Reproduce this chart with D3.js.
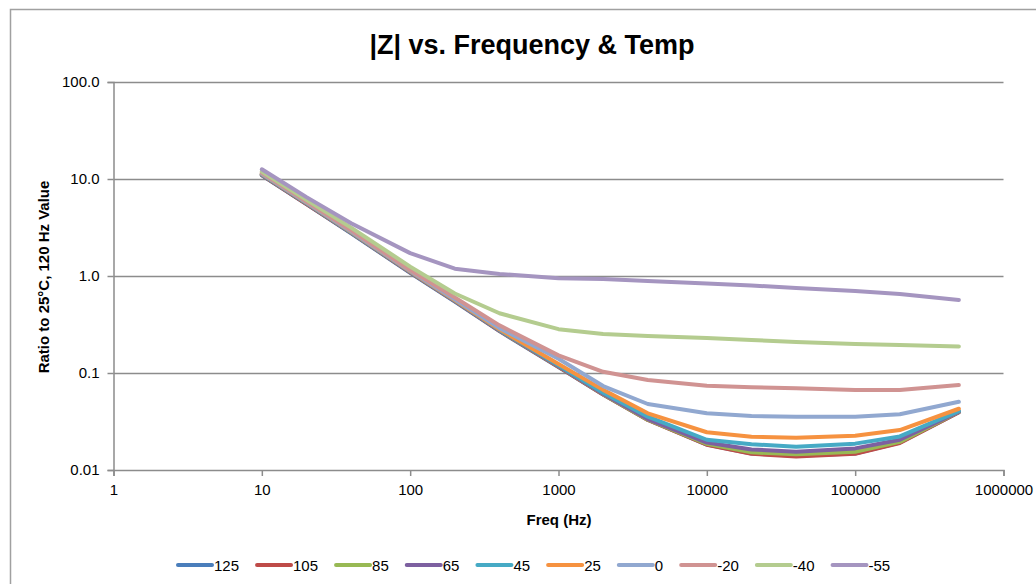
<!DOCTYPE html>
<html>
<head>
<meta charset="utf-8">
<script src="https://cdn.jsdelivr.net/npm/d3@7"></script>
<style>
  body { margin: 0; background: #fff; }
  svg { display: block; font-family: "Liberation Sans", Arial, sans-serif; }
</style>
</head>
<body>
<div id="chart"></div>
<script>
// data
const freqs = [10, 20, 40, 100, 200, 400, 1000, 2000, 4000, 10000, 20000, 40000, 100000, 200000, 500000];
const temps = ["125", "105", "85", "65", "45", "25", "0", "-20", "-40", "-55"];
const colors = ["#4A7EBB", "#BE4B48", "#98B954", "#7D60A0", "#46AAC5", "#F69240", "#91A8D0", "#D09392", "#B4CC8F", "#A595C0"];

const z125 = [10.9, 5.5, 2.75, 1.08, 0.545, 0.27, 0.115, 0.06, 0.033, 0.0183, 0.0148, 0.0140, 0.0148, 0.0192, 0.0395];
const z105 = [11.0, 5.5, 2.78, 1.09, 0.55, 0.272, 0.116, 0.06, 0.0328, 0.0182, 0.0147, 0.0138, 0.0147, 0.019, 0.0395];
const z85 = [11.1, 5.6, 2.8, 1.1, 0.555, 0.275, 0.117, 0.0605, 0.033, 0.0186, 0.0152, 0.0145, 0.0154, 0.0195, 0.0398];
const z65 = [11.1, 5.6, 2.8, 1.1, 0.555, 0.275, 0.118, 0.061, 0.0335, 0.0192, 0.0163, 0.0154, 0.0167, 0.0205, 0.040];
const z45 = [11.2, 5.65, 2.82, 1.11, 0.56, 0.278, 0.12, 0.0625, 0.0355, 0.0205, 0.0184, 0.0174, 0.0187, 0.0222, 0.0405];
const z25 = [11.3, 5.7, 2.85, 1.12, 0.565, 0.282, 0.124, 0.067, 0.0384, 0.0245, 0.022, 0.0215, 0.0226, 0.0258, 0.0428];
const z0 = [11.4, 5.75, 2.88, 1.13, 0.575, 0.29, 0.14, 0.0734, 0.0479, 0.0384, 0.036, 0.0355, 0.0355, 0.0376, 0.0506];
const zm20 = [11.6, 5.85, 2.95, 1.15, 0.6, 0.31, 0.152, 0.103, 0.0847, 0.074, 0.0713, 0.0698, 0.0668, 0.0668, 0.0752];
const zm40 = [11.9, 6.1, 3.15, 1.25, 0.66, 0.413, 0.283, 0.252, 0.24, 0.23, 0.219, 0.209, 0.199, 0.194, 0.188];
const zm55 = [12.6, 6.5, 3.5, 1.72, 1.19, 1.05, 0.946, 0.93, 0.89, 0.837, 0.80, 0.752, 0.70, 0.652, 0.566];
const seriesValues = [z125, z105, z85, z65, z45, z25, z0, zm20, zm40, zm55];

const xTicks = [1, 10, 100, 1000, 10000, 100000, 1000000];
const xTickLabels = ["1", "10", "100", "1000", "10000", "100000", "1000000"];
const yTicks = [0.01, 0.1, 1, 10, 100];
const yTickLabels = ["0.01", "0.1", "1.0", "10.0", "100.0"];

const W = 1036, H = 584;
const plot = { left: 113.5, right: 1003.5, top: 82, bottom: 470 };

const svg = d3.select("#chart")
  .append("svg")
  .attr("width", W)
  .attr("height", H);

svg.append("rect")
  .attr("width", W).attr("height", H)
  .attr("fill", "#fff");

// outer chart border (runs past the right/bottom edge)
svg.append("rect")
  .attr("x", 10.5).attr("y", 9.5)
  .attr("width", 1100).attr("height", 700)
  .attr("fill", "none")
  .attr("stroke", "#a0a0a0")
  .attr("stroke-width", 1.5);

const x = d3.scaleLog().domain([1, 1e6]).range([plot.left, plot.right]);
const y = d3.scaleLog().domain([0.01, 100]).range([plot.bottom, plot.top]);

// horizontal gridlines
svg.append("g")
  .attr("transform", `translate(${plot.left},0)`)
  .call(d3.axisLeft(y).tickValues(yTicks.slice(1)).tickSize(-(plot.right - plot.left)).tickFormat(""))
  .call(g => g.select(".domain").remove())
  .selectAll("line")
  .attr("stroke", "#8c8c8c")
  .attr("stroke-width", 1.5);

// y axis
const yAxis = svg.append("g")
  .attr("transform", `translate(${plot.left},0)`)
  .call(d3.axisLeft(y).tickValues(yTicks).tickSize(6).tickPadding(8)
    .tickFormat((d, i) => yTickLabels[i]));

// x axis
const xAxis = svg.append("g")
  .attr("transform", `translate(0,${plot.bottom})`)
  .call(d3.axisBottom(x).tickValues(xTicks).tickSize(6).tickPadding(8)
    .tickFormat((d, i) => xTickLabels[i]));

[yAxis, xAxis].forEach(a => {
  a.select(".domain").attr("stroke", "#8c8c8c").attr("stroke-width", 1.5);
  a.selectAll(".tick line").attr("stroke", "#8c8c8c").attr("stroke-width", 1.5);
  a.selectAll(".tick text")
    .attr("fill", "#000")
    .style("font-size", "15px")
    .style("font-family", "\"Liberation Sans\", Arial, sans-serif");
});

// series lines, first series drawn at the bottom
const line = d3.line()
  .x((d, i) => x(freqs[i]))
  .y(d => y(d));

svg.append("g")
  .selectAll("path")
  .data(seriesValues)
  .join("path")
  .attr("d", d => line(d))
  .attr("fill", "none")
  .attr("stroke", (d, i) => colors[i])
  .attr("stroke-width", 4)
  .attr("stroke-linejoin", "round")
  .attr("stroke-linecap", "round");

// title
svg.append("text")
  .attr("x", 532)
  .attr("y", 54)
  .attr("text-anchor", "middle")
  .style("font-size", "27px")
  .style("font-weight", "bold")
  .text("|Z| vs. Frequency & Temp");

// axis titles
svg.append("text")
  .attr("x", 559)
  .attr("y", 525)
  .attr("text-anchor", "middle")
  .style("font-size", "15px")
  .style("font-weight", "bold")
  .text("Freq (Hz)");

svg.append("text")
  .attr("transform", "translate(49,277) rotate(-90)")
  .attr("text-anchor", "middle")
  .style("font-size", "15px")
  .style("font-weight", "bold")
  .text("Ratio to 25°C, 120 Hz Value");

// legend
const legend = svg.append("g").attr("transform", "translate(0,565)");
let lx = 178;
temps.forEach((t, i) => {
  legend.append("line")
    .attr("x1", lx).attr("x2", lx + 34)
    .attr("y1", 0).attr("y2", 0)
    .attr("stroke", colors[i])
    .attr("stroke-width", 4)
    .attr("stroke-linecap", "round");
  const txt = legend.append("text")
    .attr("x", lx + 36)
    .attr("y", 5.5)
    .style("font-size", "15px")
    .text(t);
  lx += 36 + txt.node().getComputedTextLength() + 18;
});
</script>
</body>
</html>
